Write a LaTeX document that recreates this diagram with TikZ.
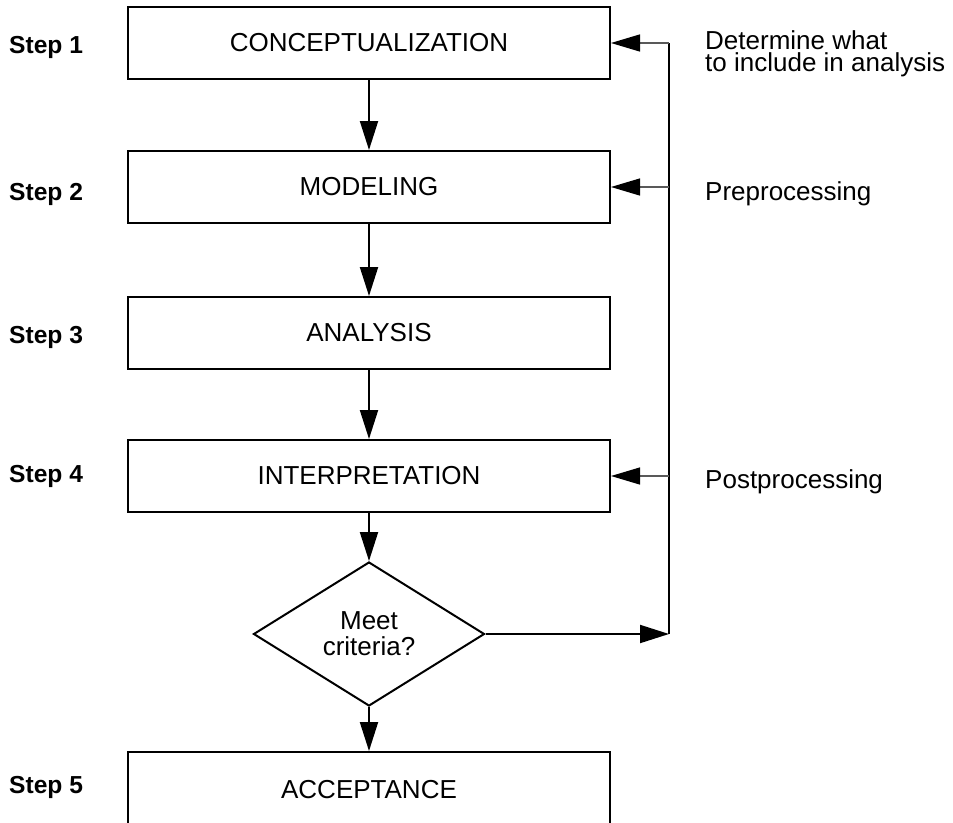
\documentclass[tikz,border=0pt]{standalone}
\usepackage{fontspec}
\setmainfont{Liberation Sans}
\usetikzlibrary{arrows.meta,shapes.geometric}
\tikzset{
 stepbox/.style={draw, line width=2pt, minimum width=482pt, minimum height=72pt, inner sep=0pt, font=\fontsize{26pt}{22pt}\selectfont},
 steplabel/.style={anchor=base west, inner sep=0pt, font=\bfseries\fontsize{24.6pt}{26pt}\selectfont},
 note/.style={inner sep=0pt, align=left, font=\fontsize{26pt}{22pt}\selectfont},
 flow/.style={line width=2pt, -{Triangle[length=29pt,width=18pt]}},
 back/.style={line width=1.3pt, draw=black!65, -{Triangle[length=29pt,width=17pt,color=black]}},
 decision/.style={diamond, draw, line width=2pt, minimum width=231pt, minimum height=144pt, inner sep=0pt, align=center, font=\fontsize{26pt}{26pt}\selectfont},
}
\begin{document}
\begin{tikzpicture}[x=1pt,y=-1pt]
\clip (0,0) rectangle (953,822);
\node[stepbox] (b1) at (369,43) {CONCEPTUALIZATION};
\node[stepbox] (b2) at (369,187) {MODELING};
\node[stepbox] (b3) at (369,333) {ANALYSIS};
\node[stepbox] (b4) at (369,476) {INTERPRETATION};
\node[decision] (d) at (369,634) {Meet\\criteria?};
\node[stepbox, minimum height=76pt] (b5) at (369,790) {ACCEPTANCE};

\node[steplabel] (s1) at (9,53) {Step 1};
\node[steplabel] (s2) at (9,200) {Step 2};
\node[steplabel] (s3) at (9,343) {Step 3};
\node[steplabel] (s4) at (9,482) {Step 4};
\node[steplabel] (s5) at (9,793) {Step 5};

\node[note, anchor=north west] (n1) at (705,30) {Determine what\\to include in analysis};
\node[note, anchor=base west] (n2) at (705,200) {Preprocessing};
\node[note, anchor=base west] (n4) at (705,488) {Postprocessing};

\draw[flow] (b1) -- (b2);
\draw[flow] (b2) -- (b3);
\draw[flow] (b3) -- (b4);
\draw[flow] (b4) -- (d);
\draw[flow] (d) -- (b5);

\coordinate (fb) at (669,634);
\draw[flow] (d.east) -- (fb);
\draw[line width=2pt] (fb) -- (b1.east -| fb);
\draw[back] (b1.east -| fb) -- (b1.east);
\draw[back] (b2.east -| fb) -- (b2.east);
\draw[back] (b4.east -| fb) -- (b4.east);
\end{tikzpicture}
\end{document}
